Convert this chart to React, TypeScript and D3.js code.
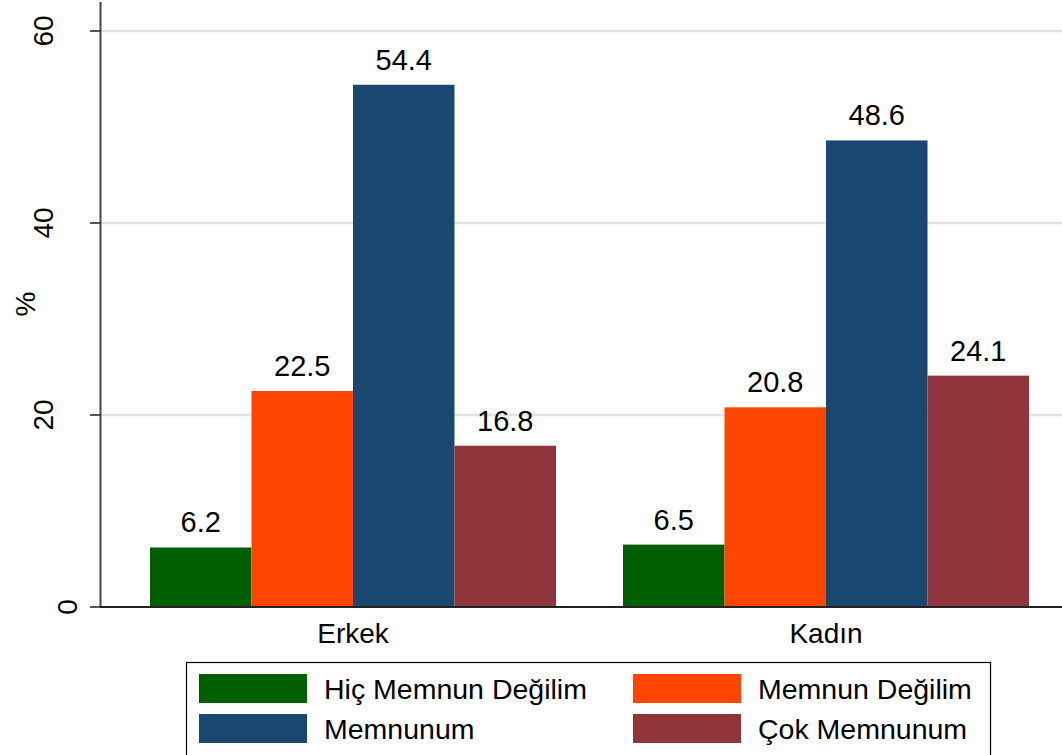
import React from "react";
import * as d3 from "d3";

const groups = ["Erkek", "Kadın"];
const series = ["Hiç Memnun Değilim", "Memnun Değilim", "Memnunum", "Çok Memnunum"];
const colors = ["#005f00", "#ff4500", "#1a476f", "#90353b"];
const erkekValues = [6.2, 22.5, 54.4, 16.8];
const kadinValues = [6.5, 20.8, 48.6, 24.1];
const yTicks = [0, 20, 40, 60];
const yTitle = "%";

const W = 1062;
const H = 755;
const FONT = "Arial, 'Liberation Sans', Helvetica, sans-serif";

export default function App() {
  const values = [erkekValues, kadinValues];
  const y = d3.scaleLinear().domain([0, 60]).range([607, 31]);
  const x0 = d3.scaleBand<string>().domain(groups).range([100, 1079]).paddingInner(0.1417).paddingOuter(0.1057);
  const x1 = d3.scaleBand<string>().domain(series).range([0, x0.bandwidth()]).padding(0);

  const legendItems = series.map((s, i) => ({
    s,
    c: colors[i],
    col: i === 0 || i === 2 ? 0 : 1,
    row: i < 2 ? 0 : 1,
  }));
  const legendColX = [199, 633];
  const legendRowY = [674, 714];

  return (
    <svg width={W} height={H} style={{ position: "absolute", left: 0, top: 0, background: "#fff" }} fontFamily={FONT}>
      <rect x={0} y={0} width={W} height={H} fill="#fff" />
      {/* grid */}
      {yTicks.filter((t) => t > 0).map((t) => (
        <line key={"g" + t} x1={101} x2={W} y1={y(t)} y2={y(t)} stroke="#e2e2e2" strokeWidth={2.5} />
      ))}
      {/* bars */}
      {groups.map((g, gi) =>
        series.map((s, si) => {
          const v = values[gi][si];
          const bx = (x0(g) as number) + (x1(s) as number);
          return (
            <g key={g + s}>
              <rect x={bx} y={y(v)} width={x1.bandwidth()} height={y(0) - y(v)} fill={colors[si]} />
              <text x={bx + x1.bandwidth() / 2} y={y(v) - 15} textAnchor="middle" fontSize={29} fill="#000">
                {v.toFixed(1)}
              </text>
            </g>
          );
        })
      )}
      {/* y axis */}
      <line x1={100.5} x2={100.5} y1={2} y2={607} stroke="#444" strokeWidth={2} />
      {yTicks.map((t) => (
        <g key={"t" + t}>
          <line x1={90} x2={100} y1={y(t)} y2={y(t)} stroke="#222" strokeWidth={1.5} />
          <text
            transform={`translate(${t === 0 ? 77 : 53},${y(t)}) rotate(-90)`}
            textAnchor="middle"
            fontSize={28}
            fill="#000"
          >
            {t}
          </text>
        </g>
      ))}
      <text transform={`translate(35,304) rotate(-90)`} textAnchor="middle" fontSize={28} fill="#000">
        {yTitle}
      </text>
      {/* x axis */}
      <line x1={100} x2={W} y1={607} y2={607} stroke="#222" strokeWidth={2} />
      {groups.map((g) => (
        <text key={"xl" + g} x={(x0(g) as number) + x0.bandwidth() / 2} y={643} textAnchor="middle" fontSize={28} fill="#000">
          {g}
        </text>
      ))}
      {/* legend */}
      <rect x={186.5} y={662.5} width={804} height={120} fill="#fff" stroke="#000" strokeWidth={1.2} />
      {legendItems.map((it) => (
        <g key={"l" + it.s}>
          <rect x={legendColX[it.col]} y={legendRowY[it.row]} width={108} height={29} fill={it.c} />
          <text x={legendColX[it.col] + 125} y={legendRowY[it.row] + 24.5} fontSize={28.5} fill="#000">
            {it.s}
          </text>
        </g>
      ))}
    </svg>
  );
}
